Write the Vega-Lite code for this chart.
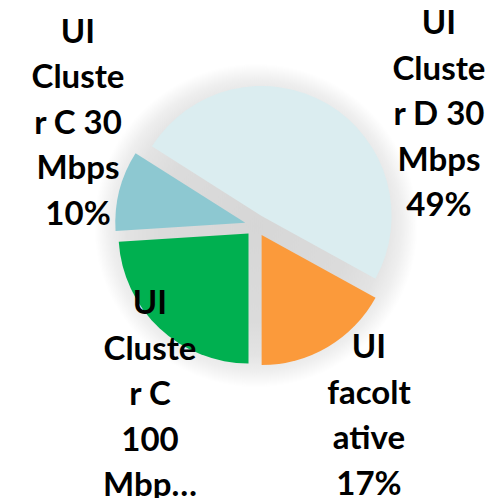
{
  "$schema": "https://vega.github.io/schema/vega-lite/v6.json",
  "width": 470,
  "height": 451,
  "autosize": "none",
  "padding": {"left": 21, "top": 0, "right": 0, "bottom": 47},
  "background": "white",
  "view": {"stroke": null},
  "data": {
    "values": [
      {"cat": "D30", "value": 49, "label": ["UI", "Cluste", "r D 30", "Mbps", "49%"]},
      {"cat": "FAC", "value": 17, "label": ["UI", "facolt", "ative", "17%"]},
      {"cat": "C100", "value": 24, "label": ["UI", "Cluste", "r C", "100", "Mbp…"]},
      {"cat": "C30", "value": 10, "label": ["UI", "Cluste", "r C 30", "Mbps", "10%"]}
    ]
  },
  "transform": [
    {"stack": "value", "groupby": [], "as": ["t0", "t1"]}
  ],
  "layer": [
    {
      "data": {"values": [{"shadow": 1}]},
      "mark": {
        "type": "arc",
        "radius": 162,
        "theta": 0,
        "theta2": 6.2832,
        "color": {
          "gradient": "radial",
          "x1": 0.5, "y1": 0.5, "r1": 0,
          "x2": 0.5, "y2": 0.5, "r2": 0.5,
          "stops": [
            {"offset": 0, "color": "#d6d6d6"},
            {"offset": 0.6, "color": "#dbdbdb"},
            {"offset": 0.8, "color": "#e3e3e3"},
            {"offset": 0.9, "color": "#eeeeee"},
            {"offset": 1, "color": "#ffffff"}
          ]
        }
      },
      "encoding": {}
    },
    {
      "transform": [{"filter": "datum.cat === 'D30'"}],
      "mark": {"type": "arc", "radius": 130, "xOffset": 5.6, "yOffset": -9.5, "color": "#DBEDF0"},
      "encoding": {
        "theta": {"field": "t0", "type": "quantitative", "scale": {"domain": [0, 100], "range": [-1.00531, 5.27788]}},
        "theta2": {"field": "t1"}
      }
    },
    {
      "transform": [{"filter": "datum.cat === 'FAC'"}],
      "mark": {"type": "arc", "radius": 130, "xOffset": 5.6, "yOffset": 9.5, "color": "#FB9A3B"},
      "encoding": {
        "theta": {"field": "t0", "type": "quantitative"},
        "theta2": {"field": "t1"}
      }
    },
    {
      "transform": [{"filter": "datum.cat === 'C100'"}],
      "mark": {"type": "arc", "radius": 130, "xOffset": -7.5, "yOffset": 8.0, "color": "#00B050"},
      "encoding": {
        "theta": {"field": "t0", "type": "quantitative"},
        "theta2": {"field": "t1"}
      }
    },
    {
      "transform": [{"filter": "datum.cat === 'C30'"}],
      "mark": {"type": "arc", "radius": 130, "xOffset": -10.7, "yOffset": -2.7, "color": "#8DC8D1"},
      "encoding": {
        "theta": {"field": "t0", "type": "quantitative"},
        "theta2": {"field": "t1"}
      }
    },
    {
      "transform": [{"filter": "datum.cat === 'D30'"}],
      "mark": {"type": "text", "radius": 272, "thetaOffset": 1.743, "font": "Lato", "fontWeight": "bold", "fontSize": 33, "lineHeight": 45.5, "align": "center", "baseline": "middle", "color": "#000000"},
      "encoding": {
        "theta": {"field": "t0", "type": "quantitative"},
        "text": {"field": "label"}
      }
    },
    {
      "transform": [{"filter": "datum.cat === 'FAC'"}],
      "mark": {"type": "text", "radius": 167, "thetaOffset": 0.325, "font": "Lato", "fontWeight": "bold", "fontSize": 33, "lineHeight": 45.5, "align": "center", "baseline": "middle", "color": "#000000"},
      "encoding": {
        "theta": {"field": "t0", "type": "quantitative"},
        "text": {"field": "label"}
      }
    },
    {
      "transform": [{"filter": "datum.cat === 'C100'"}],
      "mark": {"type": "text", "radius": 132, "thetaOffset": 0.9322, "font": "Lato", "fontWeight": "bold", "fontSize": 33, "lineHeight": 45.5, "align": "center", "baseline": "middle", "color": "#000000"},
      "encoding": {
        "theta": {"field": "t0", "type": "quantitative"},
        "text": {"field": "label"}
      }
    },
    {
      "transform": [{"filter": "datum.cat === 'C30'"}],
      "mark": {"type": "text", "radius": 262.5, "thetaOffset": 0.8885, "font": "Lato", "fontWeight": "bold", "fontSize": 33, "lineHeight": 45.5, "align": "center", "baseline": "middle", "color": "#000000"},
      "encoding": {
        "theta": {"field": "t0", "type": "quantitative"},
        "text": {"field": "label"}
      }
    }
  ]
}
